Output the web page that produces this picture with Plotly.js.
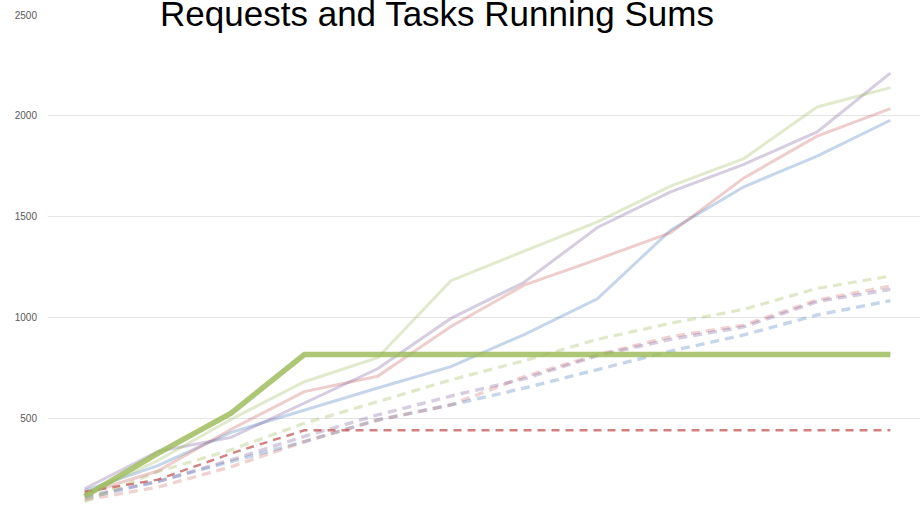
<!DOCTYPE html>
<html>
<head>
<meta charset="utf-8">
<script src="https://cdn.plot.ly/plotly-3.0.1.min.js"></script>
<style>
html,body{margin:0;padding:0;overflow:hidden;background:#fff;}
#chart{width:930px;height:560px;}
</style>
</head>
<body>
<div id="chart"></div>
<script>
// Period index (x-axis labels are outside the visible crop)
const periods = [1,2,3,4,5,6,7,8,9,10,11,12];

// Running sums – requests (solid) and tasks (dashed)
const requestsGreen  = [120, 290, 495, 681, 800, 1182, 1329, 1474, 1651, 1788, 2044, 2140];
const requestsRed    = [125, 238, 445, 632, 708, 955, 1160, 1288, 1420, 1692, 1899, 2036];
const requestsPurple = [150, 335, 405, 575, 745, 995, 1174, 1446, 1623, 1759, 1920, 2212];
const requestsBlue   = [140, 265, 430, 541, 650, 756, 915, 1092, 1433, 1648, 1800, 1978];

const tasksGreen  = [87, 235, 343, 475, 582, 690, 785, 891, 971, 1040, 1144, 1205];
const tasksRed    = [95, 158, 259, 384, 491, 566, 706, 814, 904, 962, 1086, 1155];
const tasksPurple = [112, 186, 293, 410, 516, 610, 695, 810, 891, 953, 1078, 1139];
const tasksBlue   = [104, 186, 285, 384, 491, 566, 649, 739, 833, 913, 1012, 1083];

// Highlighted series
const requestsHighlight = [112, 326, 525, 816, 816, 816, 816, 816, 816, 816, 816, 816];
const tasksHighlight    = [135, 195, 325, 440, 440, 440, 440, 440, 440, 440, 440, 440];

const yTicks = [0, 500, 1000, 1500, 2000, 2500];
const titleText = 'Requests and Tasks Running Sums';

function line(y, color, width, dash, name){
  return {x: periods, y: y, type:'scatter', mode:'lines', name: name,
          line:{color: color, width: width, dash: dash || 'solid', shape:'linear'},
          hoverinfo:'y'};
}

const data = [
  line(tasksBlue,   'rgba(79,129,189,0.32)', 3.4, '9px,6px', 'Tasks Blue'),
  line(tasksRed,    'rgba(192,80,77,0.26)',  3.4, '9px,6px', 'Tasks Red'),
  line(tasksPurple, 'rgba(128,100,162,0.32)',3.4, '9px,6px', 'Tasks Purple'),
  line(tasksGreen,  'rgba(155,187,89,0.32)', 3.2, '9px,6px', 'Tasks Green'),
  line(requestsBlue,   'rgba(79,129,189,0.32)', 3, null, 'Requests Blue'),
  line(requestsRed,    'rgba(192,80,77,0.28)',  3, null, 'Requests Red'),
  line(requestsPurple, 'rgba(128,100,162,0.32)',3, null, 'Requests Purple'),
  line(requestsGreen,  'rgba(155,187,89,0.30)', 3, null, 'Requests Green'),
  line(tasksHighlight,    'rgba(192,80,77,0.72)', 2.4, '8px,6px', 'Tasks Highlight'),
  line(requestsHighlight, 'rgba(155,187,89,0.82)', 5.5, null, 'Requests Highlight')
];

const layout = {
  width: 930, height: 560,
  margin:{l:48, r:3, t:15, b:41, pad:0},
  paper_bgcolor:'#ffffff', plot_bgcolor:'#ffffff',
  showlegend:false,
  font:{family:'"Liberation Sans", Arial, sans-serif', color:'#595959'},
  title:{text:titleText, xref:'container', yref:'container',
         x: 437/930, xanchor:'center', y: 1 - 26/560, yanchor:'bottom',
         font:{family:'"Liberation Sans", Arial, sans-serif', size:35, color:'#000000'}},
  xaxis:{range:[0.5, 12.5], showgrid:false, zeroline:false, showline:false,
         showticklabels:false, ticks:'', fixedrange:true},
  yaxis:{range:[0, 2500], tickvals:yTicks, ticktext:yTicks.map(String),
         showgrid:true, gridcolor:'#e4e4e4', gridwidth:1, zeroline:false,
         showline:false, ticks:'', ticklabelstandoff:10,
         tickfont:{size:10, color:'#595959', family:'"Liberation Sans", Arial, sans-serif'},
         fixedrange:true}
};

Plotly.newPlot('chart', data, layout, {displayModeBar:false, staticPlot:true});
</script>
</body>
</html>
